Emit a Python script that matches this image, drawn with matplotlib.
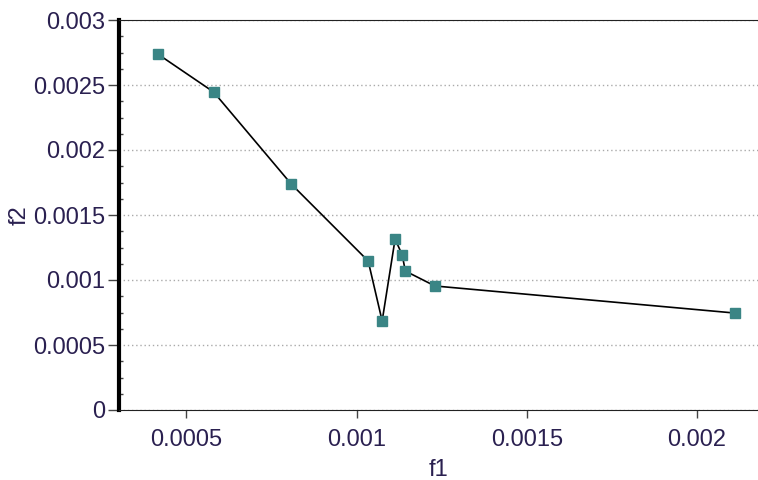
import matplotlib.pyplot as plt
from matplotlib.ticker import MultipleLocator

plt.rcParams.update({'font.family': 'Liberation Sans', 'font.size': 17})

f1 = [0.000416, 0.000580, 0.000808, 0.001034, 0.001075, 0.001113, 0.001134, 0.001143, 0.001230, 0.002110]
f2 = [0.002738, 0.002446, 0.001738, 0.001146, 0.000685, 0.001315, 0.001192, 0.001069, 0.000954, 0.000746]
xticks = [0.0005, 0.001, 0.0015, 0.002]
xtick_labels = ['0.0005', '0.001', '0.0015', '0.002']
yticks = [0, 0.0005, 0.001, 0.0015, 0.002, 0.0025, 0.003]
ytick_labels = ['0', '0.0005', '0.001', '0.0015', '0.002', '0.0025', '0.003']

text_color = '#2a2050'

fig = plt.figure(figsize=(7.58, 4.80), dpi=100)
ax = fig.add_axes([119 / 758, 1 - 410 / 480, 1 - 119 / 758, 390 / 480])

ax.plot(f1, f2, color='black', linewidth=1.2, marker='s', markersize=7,
        markerfacecolor='#3a8585', markeredgecolor='#3a8585', zorder=3)

ax.set_xlim(0.000302, 0.002179)
ax.set_ylim(0, 0.003)

ax.set_xticks(xticks)
ax.set_xticklabels(xtick_labels)
ax.set_yticks(yticks)
ax.set_yticklabels(ytick_labels)
ax.yaxis.set_minor_locator(MultipleLocator(0.000125))

ax.grid(axis='y', which='major', color='#aaaaaa', linestyle=(0, (1, 2)), linewidth=1)
ax.set_axisbelow(True)

ax.spines['right'].set_visible(False)
ax.spines['left'].set_linewidth(3)
ax.spines['left'].set_color('black')
ax.spines['top'].set_linestyle((0, (1, 1)))
ax.spines['top'].set_color('#222222')
ax.spines['bottom'].set_linestyle((0, (1, 1)))
ax.spines['bottom'].set_color('#222222')

ax.tick_params(axis='y', which='major', direction='out', length=8, width=1, colors='#444444',
               labelcolor=text_color, pad=2)
ax.tick_params(axis='y', which='minor', direction='in', length=3, width=1, colors='#444444')
ax.tick_params(axis='x', which='major', direction='out', length=6, width=1, colors='#444444',
               labelcolor=text_color, pad=8)

ax.set_xlabel('f1', color=text_color)
ax.xaxis.set_label_coords(0.5, -0.125)
ax.set_ylabel('f2', color=text_color)
ax.yaxis.set_label_coords(-0.138, 0.5)

fig.savefig('out.png', dpi=100)
